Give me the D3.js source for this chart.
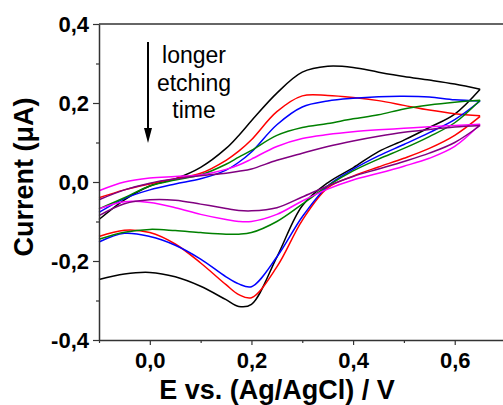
<!DOCTYPE html>
<html><head><meta charset="utf-8">
<script src="https://cdn.jsdelivr.net/npm/d3@7"></script>
<style>html,body{margin:0;padding:0;background:#fff;}svg{display:block;}</style>
</head><body>
<svg id="chart" width="503" height="405"></svg>
<script>
// potential grid (V vs Ag/AgCl)
const potential = [-0.1,-0.05,0,0.05,0.1,0.15,0.175,0.2,0.25,0.3,0.35,0.4,0.45,0.5,0.55,0.6,0.65];
// forward (anodic) sweeps, µA, on the potential grid
const blackFwd   = [-0.095,-0.045,-0.01,0.008,0.037,0.085,0.118,0.155,0.225,0.278,0.293,0.29,0.278,0.267,0.258,0.248,0.235];
const redFwd     = [-0.04,-0.02,-0.005,0.008,0.022,0.055,0.078,0.107,0.178,0.218,0.219,0.214,0.206,0.194,0.182,0.173,0.168];
const blueFwd    = [-0.077,-0.042,-0.02,-0.005,0.008,0.03,0.05,0.076,0.145,0.19,0.205,0.212,0.216,0.217,0.215,0.208,0.205];
const greenFwd   = [-0.068,-0.04,-0.01,0.005,0.018,0.045,0.063,0.08,0.118,0.138,0.148,0.16,0.17,0.185,0.195,0.202,0.207];
const magentaFwd = [-0.022,0.0,0.01,0.014,0.018,0.032,0.043,0.058,0.09,0.11,0.12,0.127,0.132,0.136,0.14,0.143,0.146];
const purpleFwd  = [-0.045,-0.02,-0.003,0.008,0.016,0.022,0.027,0.033,0.055,0.073,0.09,0.104,0.116,0.126,0.133,0.139,0.143];
// reverse (cathodic) sweeps, µA, on the same potential grid
const blackRev   = [-0.247,-0.233,-0.229,-0.24,-0.264,-0.298,-0.315,-0.31,-0.19,-0.06,-0.002,0.036,0.077,0.106,0.138,0.172,0.235];
const redRev     = [-0.138,-0.122,-0.128,-0.157,-0.205,-0.26,-0.285,-0.293,-0.215,-0.097,-0.015,0.015,0.038,0.06,0.085,0.118,0.166];
const blueRev    = [-0.152,-0.13,-0.138,-0.16,-0.195,-0.24,-0.258,-0.265,-0.19,-0.088,-0.01,0.032,0.066,0.095,0.125,0.158,0.205];
const greenRev   = [-0.145,-0.127,-0.12,-0.123,-0.128,-0.132,-0.132,-0.128,-0.1,-0.056,-0.01,0.028,0.058,0.085,0.115,0.15,0.207];
const magentaRev = [-0.068,-0.05,-0.052,-0.065,-0.082,-0.095,-0.1,-0.1,-0.082,-0.048,-0.018,0.005,0.022,0.04,0.06,0.09,0.146];
const purpleRev  = [-0.085,-0.055,-0.045,-0.046,-0.056,-0.067,-0.072,-0.073,-0.065,-0.038,-0.01,0.014,0.033,0.052,0.073,0.1,0.143];

const seriesNames  = ["black","red","blue","green","magenta","purple"];
const seriesColors = ["#000000","#ff0000","#0000ff","#008000","#ff00ff","#800080"];
const forwardSweeps = [blackFwd,redFwd,blueFwd,greenFwd,magentaFwd,purpleFwd];
const reverseSweeps = [blackRev,redRev,blueRev,greenRev,magentaRev,purpleRev];

const xMajor = [0,0.2,0.4,0.6];
const xMinor = [-0.1,0.1,0.3,0.5];
const yMajor = [-0.4,-0.2,0,0.2,0.4];
const yMinor = [-0.3,-0.1,0.1,0.3];
const annotationLines = ["longer","etching","time"];

const svg = d3.select("#chart");
const x = d3.scaleLinear().domain([-0.1,0.695]).range([99,503]);
const y = d3.scaleLinear().domain([-0.4,0.4]).range([340,24]);
const fmt = v => d3.format(".1f")(v).replace(".",",").replace("\u2212","-");
const font = "'Liberation Sans', Arial, Helvetica, sans-serif";

// curves: forward sweep then reverse sweep, joined with a sharp turn at the vertex
const line = d3.line().x(d=>x(d[0])).y(d=>y(d[1])).curve(d3.curveCatmullRom.alpha(0.5));
seriesNames.forEach((name,i)=>{
  const fwd = potential.map((e,k)=>[e,forwardSweeps[i][k]]);
  const rev = potential.map((e,k)=>[e,reverseSweeps[i][k]]);
  svg.append("path").attr("d",line(fwd) + " " + line(rev)).attr("fill","none")
    .attr("stroke",seriesColors[i]).attr("stroke-width",1.5).attr("stroke-linejoin","round");
});

// axes
const axisColor = "#333";
const gx = svg.append("g").attr("transform",`translate(0,${y(-0.4)})`)
  .call(d3.axisBottom(x).tickValues(xMajor).tickFormat(fmt).tickSize(5).tickPadding(7).tickSizeOuter(0));
const gxm = svg.append("g").attr("transform",`translate(0,${y(-0.4)})`)
  .call(d3.axisBottom(x).tickValues(xMinor).tickFormat("").tickSize(3).tickSizeOuter(0));
const gy = svg.append("g").attr("transform",`translate(${x(-0.1)},0)`)
  .call(d3.axisLeft(y).tickValues(yMajor).tickFormat(fmt).tickSize(6).tickPadding(4).tickSizeOuter(0));
const gym = svg.append("g").attr("transform",`translate(${x(-0.1)},0)`)
  .call(d3.axisLeft(y).tickValues(yMinor).tickFormat("").tickSize(3).tickSizeOuter(0));
[gx,gxm,gy,gym].forEach(g=>{
  g.selectAll("path.domain").attr("stroke",axisColor).attr("stroke-width",1.5);
  g.selectAll("line").attr("stroke",axisColor).attr("stroke-width",1.2);
  g.selectAll("text").attr("fill","#000").style("font-family",font).style("font-weight","bold").style("font-size","22px");
});
gxm.select("path.domain").remove(); gym.select("path.domain").remove();
// top frame line
svg.append("line").attr("x1",x(-0.1)).attr("x2",503).attr("y1",y(0.4)).attr("y2",y(0.4))
  .attr("stroke",axisColor).attr("stroke-width",1.5);

// axis titles
svg.append("text").attr("x",277).attr("y",399).attr("text-anchor","middle")
  .style("font-family",font).style("font-weight","bold").style("font-size","27px")
  .text("E vs. (Ag/AgCl) / V");
svg.append("text").attr("transform","translate(33,177) rotate(-90)").attr("text-anchor","middle")
  .style("font-family",font).style("font-weight","bold").style("font-size","27px")
  .text("Current (\u03BCA)");

// annotation
svg.append("line").attr("x1",148).attr("x2",148).attr("y1",42).attr("y2",130)
  .attr("stroke","#000").attr("stroke-width",2);
svg.append("path").attr("d","M144,128 L152,128 L148,143 Z").attr("fill","#000");
const ann = svg.append("text").attr("text-anchor","middle")
  .style("font-family",font).style("font-size","23px").attr("fill","#000");
annotationLines.forEach((t,i)=>{
  ann.append("tspan").attr("x",194).attr("y",63+i*27.5).text(t);
});
</script>
</body></html>
